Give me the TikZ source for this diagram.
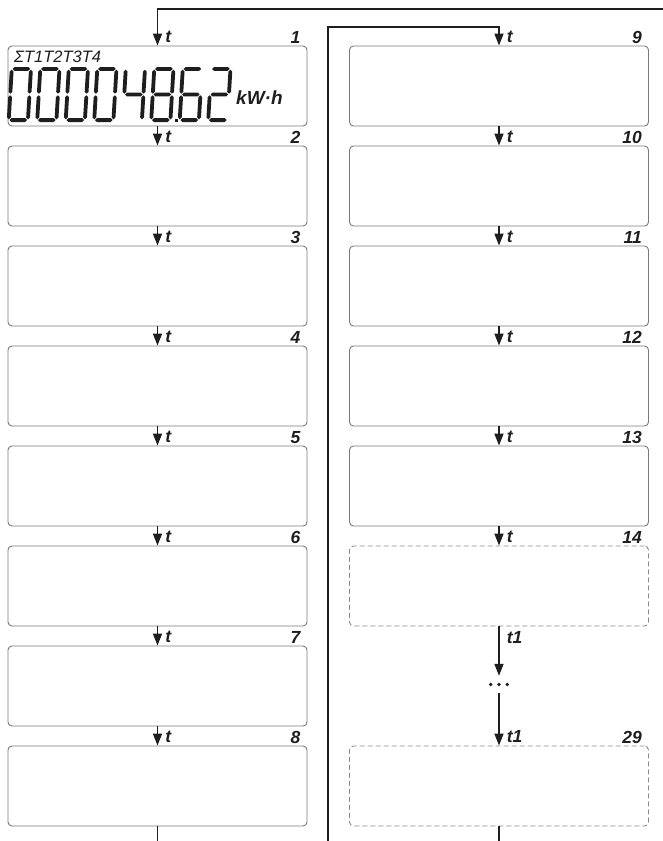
\documentclass[tikz,border=0pt]{standalone}
\usepackage{fontspec}
\setmainfont{Liberation Sans}
\usetikzlibrary{arrows.meta,calc}
\definecolor{linec}{HTML}{1E1E1E}
\definecolor{boxgray}{HTML}{7A7A7A}
\definecolor{dashgray}{HTML}{8A8A8A}
\tikzset{
  box/.style={draw=boxgray, line width=0.9pt, rounded corners=4pt,
    minimum width=299pt, minimum height=80pt, inner sep=0pt, fill=white},
  dbox/.style={box, draw=dashgray, dash pattern=on 5pt off 3pt},
  flow/.style={draw=linec, line width=1.6pt, -{Triangle[width=9pt,length=12pt]}},
  wire/.style={draw=linec, line width=1.6pt},
  tlab/.style={font=\fontsize{17.5}{17.5}\selectfont\bfseries\itshape, text=linec,
    inner sep=0pt, anchor=base west},
  nlab/.style={font=\fontsize{17.5}{17.5}\selectfont\bfseries\itshape, text=linec,
    inner sep=0pt, anchor=base east},
  lcdfill/.style={fill=linec},
}
% seven-segment pieces (local units: 1pt, y downwards), digit 23 x 55
\newcommand\LcdH[1]{\fill[lcdfill] (2.7,#1) -- (4.6,{#1-1.9}) -- (18.4,{#1-1.9}) -- (20.3,#1) -- (18.4,{#1+1.9}) -- (4.6,{#1+1.9}) -- cycle;}
\newcommand\LcdV[3]{\fill[lcdfill] (#1,{#2+0.8}) -- ({#1+1.9},{#2+2.7}) -- ({#1+1.9},{#3-2.7}) -- (#1,{#3-0.8}) -- ({#1-1.9},{#3-2.7}) -- ({#1-1.9},{#2+2.7}) -- cycle;}
\newcommand\LcdSegA{\LcdH{1.9}}
\newcommand\LcdSegG{\LcdH{27.5}}
\newcommand\LcdSegD{\LcdH{53.1}}
\newcommand\LcdSegF{\LcdV{1.9}{1.9}{27.5}}
\newcommand\LcdSegB{\LcdV{21.1}{1.9}{27.5}}
\newcommand\LcdSegE{\LcdV{1.9}{27.5}{53.1}}
\newcommand\LcdSegC{\LcdV{21.1}{27.5}{53.1}}
\newcommand\LcdDigit[2]{\begin{scope}[shift={(#1,67)},xslant=0.06]
  \foreach \s in {#2}{\csname LcdSeg\s\endcsname}\end{scope}}
\begin{document}
\begin{tikzpicture}[x=1pt,y=-1pt]
\useasboundingbox (0,0) rectangle (662,841);
% left column
\foreach \i in {1,...,8}{
  \node[box] (b\i) at (157.5,{86+100*(\i-1)}) {};
  \node[nlab] (n\i) at ([xshift=-7pt,yshift=2.5pt]b\i.north east) {\i};
}
% right column
\foreach \i/\k in {9/0,10/1,11/2,12/3,13/4}{
  \node[box] (b\i) at (499,{86+100*\k}) {};
  \node[nlab] (n\i) at ([xshift=-7pt,yshift=2.5pt]b\i.north east) {\i};
}
\node[dbox] (b14) at (499,586) {};
\node[nlab] (n14) at ([xshift=-7pt,yshift=2.5pt]b14.north east) {14};
\node[dbox] (b29) at (499,786) {};
\node[nlab] (n29) at ([xshift=-7pt,yshift=2.5pt]b29.north east) {29};
% display contents of box 1
\node[font=\fontsize{16.5}{16.5}\selectfont\itshape, text=linec, anchor=base west, inner sep=0pt] (tariffs) at (14,62.5) {ΣT1T2T3T4};
\LcdDigit{10}{A,B,C,D,E,F}
\LcdDigit{38.5}{A,B,C,D,E,F}
\LcdDigit{67}{A,B,C,D,E,F}
\LcdDigit{95.5}{A,B,C,D,E,F}
\LcdDigit{124}{F,G,B,C}
\LcdDigit{152.5}{A,B,C,D,E,F,G}
\fill[lcdfill] (174.5,118.5) rectangle (178,122);
\LcdDigit{181}{A,F,G,E,C,D}
\LcdDigit{209.5}{A,B,G,E,D}
\node[font=\fontsize{19}{19}\selectfont\bfseries\itshape, text=linec, anchor=base west, inner sep=0pt] (unit) at (236,104) {kW·h};
% connectors left column
\foreach \i [evaluate=\i as \j using int(\i+1)] in {1,...,7}{
  \draw[flow] (b\i) -- node[tlab, at end, xshift=7pt, yshift=3pt] {t} (b\j);
}
% connectors right column
\foreach \i [evaluate=\i as \j using int(\i+1)] in {9,...,13}{
  \draw[flow] (b\i) -- node[tlab, at end, xshift=7pt, yshift=3pt] {t} (b\j);
}
% dots
\node[inner sep=0pt, minimum width=22pt, minimum height=17pt] (dots) at (499,684.5) {};
\fill[linec] ([xshift=-8.3pt]dots.center) circle (1.9pt);
\fill[linec] (dots.center) circle (1.9pt);
\fill[linec] ([xshift=8.3pt]dots.center) circle (1.9pt);
\draw[flow] (b14) -- node[tlab, at start, xshift=7pt, yshift=-17pt] {t1} (dots);
\draw[flow] (dots) -- node[tlab, at end, xshift=7pt, yshift=3pt] {t1} (b29);
% loops
\coordinate (inR) at (663,9);
\draw[flow] (inR) -| node[tlab, at end, xshift=7pt, yshift=3pt] {t} (b1.north);
\coordinate (outL) at (157.5,842);
\draw[wire] (b8) -- (outL);
\coordinate (retB) at (328,842);
\coordinate (retT) at (328,27);
\draw[flow] (retB) -- (retT) -| node[tlab, at end, xshift=7pt, yshift=3pt] {t} (b9.north);
\coordinate (outR) at (499,842);
\draw[wire] (b29) -- (outR);
\end{tikzpicture}
\end{document}
